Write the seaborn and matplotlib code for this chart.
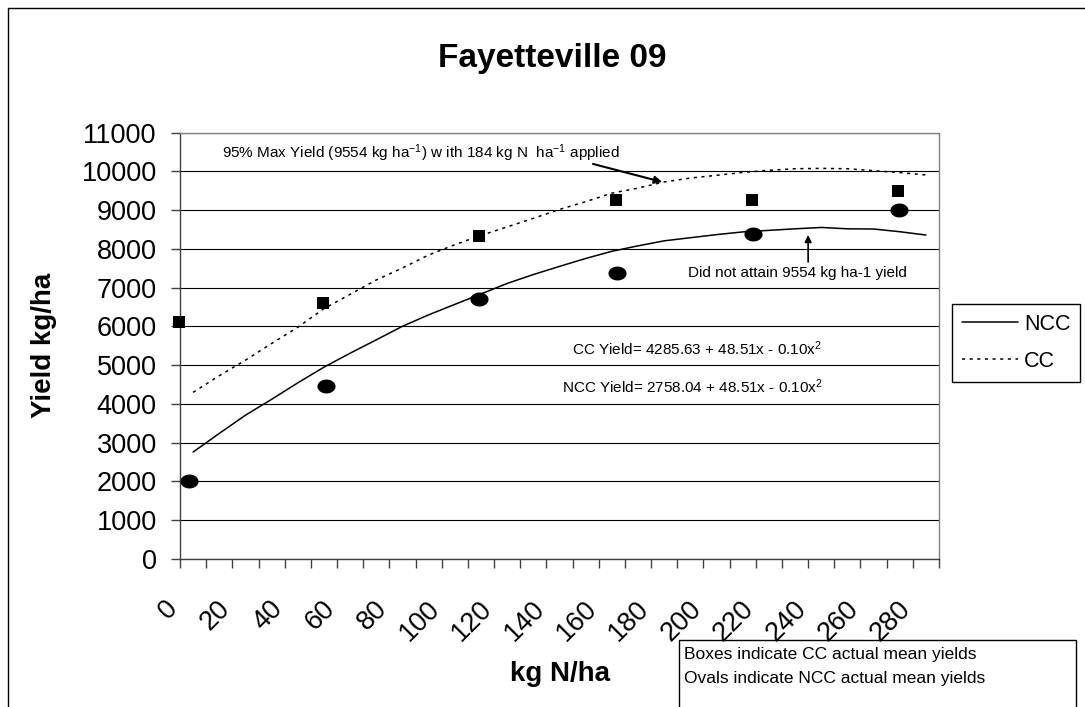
import matplotlib
matplotlib.use("Agg")
import matplotlib.pyplot as plt
import matplotlib.transforms as mtransforms
from matplotlib.lines import Line2D
from matplotlib.patches import Rectangle
from matplotlib.path import Path
import numpy as np
import seaborn as sns

# categories on the x axis (kg N/ha)
n_rate = [0, 10, 20, 30, 40, 50, 60, 70, 80, 90, 100, 110, 120, 130, 140,
          150, 160, 170, 180, 190, 200, 210, 220, 230, 240, 250, 260, 270, 280]
tick_labels = [0, 20, 40, 60, 80, 100, 120, 140, 160, 180, 200, 220, 240, 260, 280]

# fitted curves
ncc_yield = [2760, 3240, 3710, 4120, 4545, 4950, 5310, 5655, 6005, 6300,
             6570, 6840, 7110, 7340, 7550, 7755, 7940, 8080, 8210, 8290,
             8370, 8440, 8480, 8520, 8555, 8520, 8515, 8445, 8360]
cc_yield = [4300, 4730, 5130, 5560, 5980, 6460, 6830, 7200, 7510, 7845,
            8110, 8350, 8570, 8790, 9020, 9220, 9440, 9570, 9730, 9830,
            9900, 9975, 10030, 10070, 10080, 10070, 10020, 9970, 9910]

# actual means (boxes = CC, ovals = NCC)
cc_mean_x = [-5.2, 49.6, 109.4, 161.4, 213.7, 269.5]
cc_mean_y = [6125, 6605, 8330, 9255, 9265, 9495]
ncc_mean_x = [-1.7, 50.9, 109.4, 162.0, 214.1, 269.7]
ncc_mean_y = [2005, 4465, 6700, 7370, 8380, 9005]

sns.set_style("white")
plt.rcParams['font.family'] = ['Liberation Sans', 'DejaVu Sans']
plt.rcParams['mathtext.fontset'] = 'custom'
plt.rcParams['mathtext.rm'] = 'Liberation Sans'
plt.rcParams['mathtext.it'] = 'Liberation Sans:italic'
plt.rcParams['mathtext.bf'] = 'Liberation Sans:bold'
for key in ['text.color', 'axes.labelcolor', 'xtick.color', 'ytick.color']:
    plt.rcParams[key] = 'black'

fig = plt.figure(figsize=(10.85, 7.07), dpi=100)
ax = fig.add_axes([180 / 1085, 1 - 559 / 707, (939 - 180) / 1085, (559 - 132.7) / 707])

sns.lineplot(x=n_rate, y=ncc_yield, ax=ax, color='black', lw=1.1, label='NCC')
sns.lineplot(x=n_rate, y=cc_yield, ax=ax, color='black', lw=1.1,
             linestyle=(0, (2, 3)), label='CC')

# oval marker
t = np.linspace(0, 2 * np.pi, 60)
oval = Path(np.column_stack([np.cos(t), 0.77 * np.sin(t)]))

sns.scatterplot(x=cc_mean_x, y=cc_mean_y, ax=ax, marker='s', s=80,
                color='black', edgecolor='black', linewidth=0, clip_on=False, zorder=5)
sns.scatterplot(x=ncc_mean_x, y=ncc_mean_y, ax=ax, marker=oval, s=170,
                color='black', edgecolor='black', linewidth=0, clip_on=False, zorder=5)

ax.set_xlim(-5, 285)
ax.set_ylim(0, 11000)
ax.set_yticks(range(0, 11001, 1000))
ax.yaxis.grid(True, color='black', lw=0.8)
ax.xaxis.grid(False)
ax.set_axisbelow(True)

ax.set_xticks(tick_labels)
ax.set_xticklabels([str(v) for v in tick_labels])
ax.set_xticks([n - 5 for n in n_rate] + [n_rate[-1] + 5], minor=True)
ax.tick_params(axis='x', which='major', length=0, pad=33, labelsize=19.5, labelcolor='black')
ax.tick_params(axis='x', which='minor', length=6.5, width=1, color='#404040', direction='out', bottom=True)
ax.tick_params(axis='y', which='major', length=6.7, width=1, color='#404040', direction='out',
               left=True, pad=10, labelsize=19.5, labelcolor='black')
shift = mtransforms.ScaledTranslation(-19 / 100, 0, fig.dpi_scale_trans)
for lbl in ax.get_xticklabels():
    lbl.set_rotation(45)
    lbl.set_ha('right')
    lbl.set_va('center')
    lbl.set_rotation_mode('anchor')
    lbl.set_transform(lbl.get_transform() + shift)

for side in ['left', 'bottom']:
    ax.spines[side].set_color('#404040')
    ax.spines[side].set_linewidth(1)
for side in ['top', 'right']:
    ax.spines[side].set_color('#808080')
    ax.spines[side].set_linewidth(1)

ax.set_xlabel('kg N/ha', fontsize=20, fontweight='bold', color='black')
ax.set_ylabel('Yield kg/ha', fontsize=20, fontweight='bold', color='black')
ax.xaxis.set_label_coords(0.5, -0.239)
ax.yaxis.set_label_coords(-0.162, 0.5)

fig.text(552 / 1085, 1 - 66.7 / 707, 'Fayetteville 09', ha='center', va='baseline',
         fontsize=24, fontweight='bold', color='black')

# annotations
ax.text(87.1, 10470, r'95% Max Yield (9554 kg ha$^{-1}$) w ith 184 kg N  ha$^{-1}$ applied',
        ha='center', va='center', fontsize=11, color='black')
ax.annotate('', xy=(179.2, 9729), xytext=(152.8, 10194),
            arrowprops=dict(arrowstyle='-|>', color='black', lw=1.5,
                            mutation_scale=11, shrinkA=0, shrinkB=0))
ax.text(230.8, 7388, 'Did not attain 9554 kg ha-1 yield', ha='center', va='center',
        fontsize=11, color='black')
ax.annotate('', xy=(235, 8361), xytext=(235, 7665),
            arrowprops=dict(arrowstyle='-|>', color='black', lw=1.2,
                            mutation_scale=10, shrinkA=0, shrinkB=0))
ax.text(192.6, 5419, r'CC Yield= 4285.63 + 48.51x - 0.10x$^{2}$', ha='center', va='center',
        fontsize=11, color='black')
ax.text(191.0, 4446, r'NCC Yield= 2758.04 + 48.51x - 0.10x$^{2}$', ha='center', va='center',
        fontsize=11, color='black')

leg = ax.legend(loc='upper left', bbox_to_anchor=(952 / 1085, 1 - 304 / 707),
                bbox_transform=fig.transFigure, frameon=True, fancybox=False,
                edgecolor='black', framealpha=1, borderaxespad=0, borderpad=0.45,
                handlelength=2.6, handletextpad=0.3, labelspacing=0.75, fontsize=15.5)
leg.get_frame().set_linewidth(1)
for txt in leg.get_texts():
    txt.set_color('black')

# outer chart border and note box
fig.add_artist(Line2D([8 / 1085, 8 / 1085], [0, 1 - 8 / 707], color='black', lw=1))
fig.add_artist(Line2D([8 / 1085, 1], [1 - 8 / 707, 1 - 8 / 707], color='black', lw=1))
fig.add_artist(Rectangle((679 / 1085, -0.05), (1076 - 679) / 1085, (707 - 640) / 707 + 0.05,
                         transform=fig.transFigure, fill=False, edgecolor='black', lw=1))
fig.text(684 / 1085, 1 - 655 / 707, 'Boxes indicate CC actual mean yields', ha='left', va='center',
         fontsize=12.5, color='black')
fig.text(684 / 1085, 1 - 678 / 707, 'Ovals indicate NCC actual mean yields', ha='left', va='center',
         fontsize=12.5, color='black')

fig.savefig('out.png', dpi=100)
